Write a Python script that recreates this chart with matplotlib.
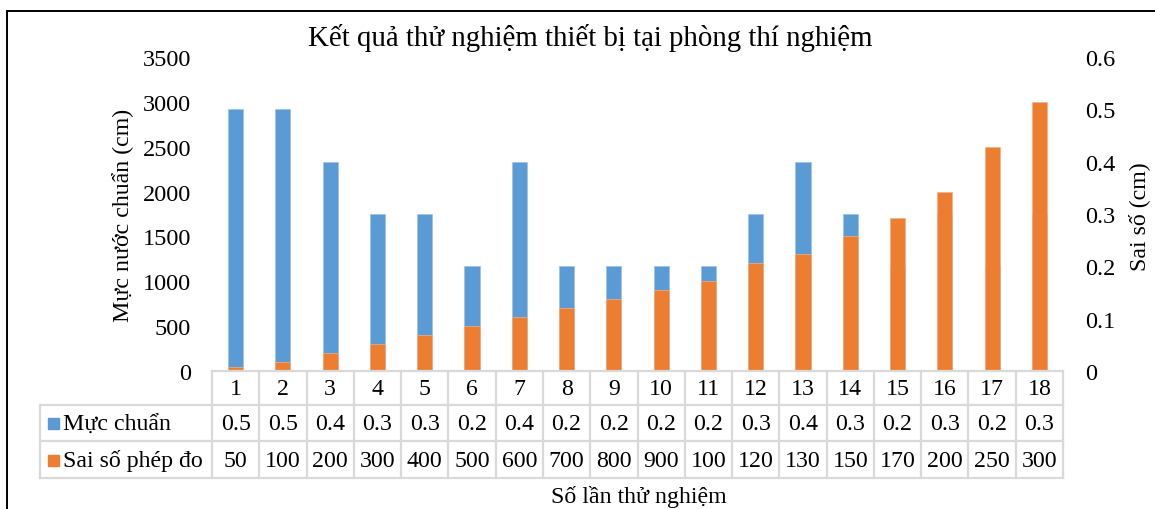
import matplotlib
matplotlib.use("Agg")
import matplotlib.pyplot as plt
from matplotlib.patches import Rectangle
from matplotlib.lines import Line2D
import numpy as np

plt.rcParams['font.family'] = ['Liberation Serif', 'DejaVu Serif']

# ---- data ----
categories = [str(i) for i in range(1, 19)]
muc_chuan = [0.5, 0.5, 0.4, 0.3, 0.3, 0.2, 0.4, 0.2, 0.2, 0.2, 0.2, 0.3, 0.4, 0.3, 0.2, 0.3, 0.2, 0.3]
sai_so = [50, 100, 200, 300, 400, 500, 600, 700, 800, 900, 1000, 1200, 1300, 1500, 1700, 2000, 2500, 3000]
left_ticks = [0, 500, 1000, 1500, 2000, 2500, 3000, 3500]
right_ticks = [0, 0.1, 0.2, 0.3, 0.4, 0.5, 0.6]
series_names = ["Mực chuẩn", "Sai số phép đo"]
title = "Kết quả thử nghiệm thiết bị tại phòng thí nghiệm"
xlabel = "Số lần thử nghiệm"
ylabel_left = "Mực nước chuẩn (cm)"
ylabel_right = "Sai số (cm)"

BLUE = "#5B9BD5"
ORANGE = "#ED7D31"
GRID = "#D9D9D9"

W, H = 1155, 510
fig = plt.figure(figsize=(W / 100, H / 100), dpi=100)

def fx(px):
    return px / W

def fy(py):
    return 1 - py / H

ax_left, ax_right, ax_top, ax_bot = 212, 1063, 58, 372
ax = fig.add_axes([fx(ax_left), fy(ax_bot), fx(ax_right - ax_left), (ax_bot - ax_top) / H])
ax2 = ax.twinx()

x = np.arange(len(categories))
bw = 0.32
ax2.bar(x, muc_chuan, width=bw, color=BLUE, edgecolor="#9DC3E6", linewidth=0.5)
ax.bar(x, sai_so, width=bw, color=ORANGE, edgecolor="#F4B183", linewidth=0.5)
ax.set_zorder(ax2.get_zorder() + 1)
ax.patch.set_visible(False)

n = len(categories)
ax.set_xlim(-0.5, n - 0.5)
ax.set_ylim(0, 3500)
ax2.set_ylim(0, 0.6)
ax.set_yticks(left_ticks)
ax.set_yticklabels([str(t) for t in left_ticks])
ax2.set_yticks(right_ticks)
ax2.set_yticklabels(["0" if t == 0 else f"{t:g}" for t in right_ticks])
ax.set_xticks([])
for a in (ax, ax2):
    for s in a.spines.values():
        s.set_visible(False)
FS_TICK = 17.5
FS = 17.2
ax.tick_params(axis='y', length=0, labelsize=FS_TICK, pad=15)
ax2.tick_params(axis='y', length=0, labelsize=FS_TICK, pad=16)

fig.text(fx(123), fy(215), ylabel_left, rotation=90, ha='center', va='center', fontsize=FS)
fig.text(fx(1139), fy(217), ylabel_right, rotation=90, ha='center', va='center', fontsize=FS)

# ---- data table ----
colw = (ax_right - ax_left) / n
row_y = [372, 406, 442, 479]
leg_left = 40
lw = 1.6

def line(x0, y0, x1, y1):
    fig.add_artist(Line2D([fx(x0), fx(x1)], [fy(y0), fy(y1)], color=GRID, lw=lw, zorder=5))

# horizontal lines
line(ax_left, row_y[0], ax_right, row_y[0])
line(leg_left, row_y[1], ax_right, row_y[1])
line(leg_left, row_y[2], ax_right, row_y[2])
line(leg_left, row_y[3], ax_right, row_y[3])
# vertical lines
for i in range(n + 1):
    xp = ax_left + i * colw
    line(xp, row_y[0], xp, row_y[3])
line(leg_left, row_y[1], leg_left, row_y[3])

for i in range(n):
    xc = ax_left + (i + 0.5) * colw
    fig.text(fx(xc), fy((row_y[0] + row_y[1]) / 2 + 1), categories[i], ha='center', va='center', fontsize=FS)
    fig.text(fx(xc), fy((row_y[1] + row_y[2]) / 2 + 1), f"{muc_chuan[i]:g}", ha='center', va='center', fontsize=FS)
    fig.text(fx(xc), fy((row_y[2] + row_y[3]) / 2 + 1), str(sai_so[i])[:3], ha='center', va='center', fontsize=FS)

for r, (name, col) in enumerate(zip(series_names, [BLUE, ORANGE])):
    yc = (row_y[r + 1] + row_y[r + 2]) / 2
    fig.add_artist(Rectangle((fx(48), fy(yc + 6)), 11 / W, 11 / H, color=col, zorder=6))
    fig.text(fx(63), fy(yc + 1), name, ha='left', va='center', fontsize=FS)

fig.text(fx(639), fy(497), xlabel, ha='center', va='center', fontsize=FS)
fig.text(fx(590), fy(38), title, ha='center', va='center', fontsize=20.8)

# outer chart border (partially cropped)
fig.add_artist(Rectangle((fx(7), -0.1), 1.2, fy(12) + 0.1, fill=False, edgecolor='black', lw=1.4, zorder=10))

fig.savefig("out.png", dpi=100)
